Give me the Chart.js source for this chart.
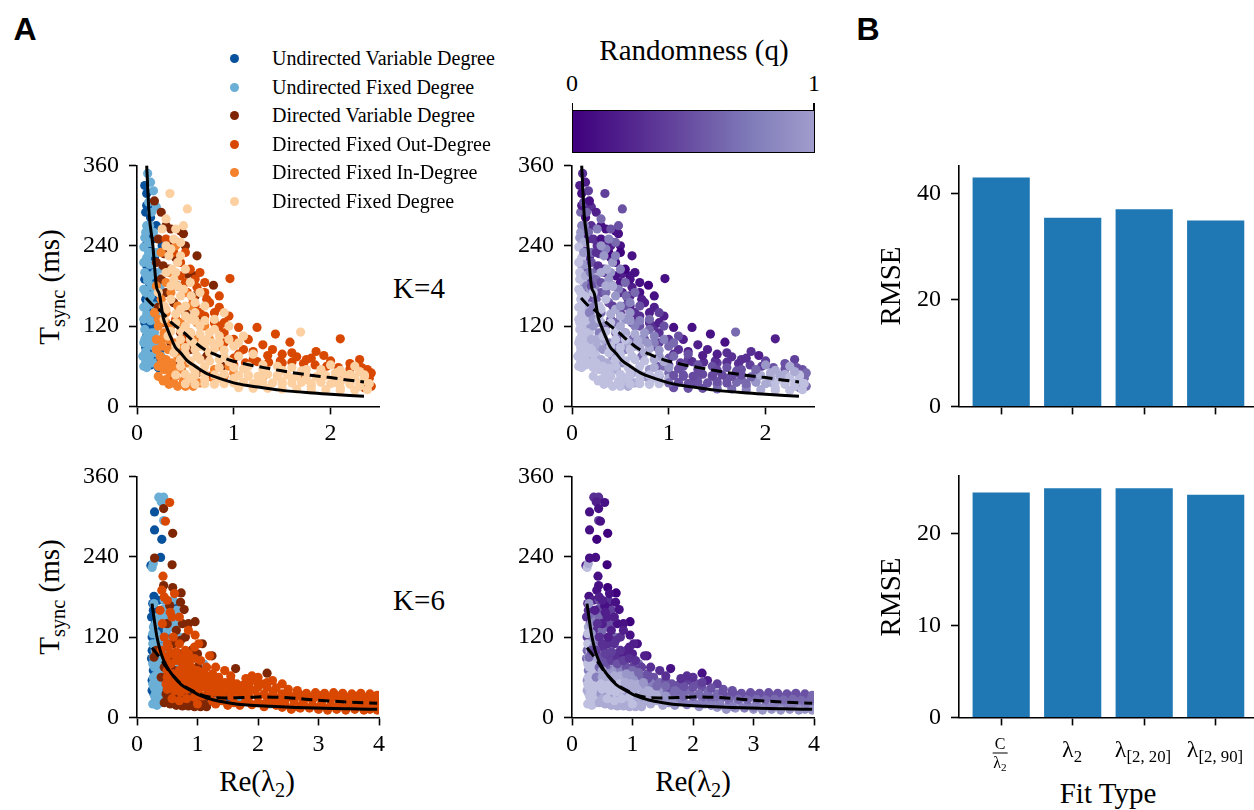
<!DOCTYPE html>
<html>
<head>
<meta charset="utf-8">
<script src="https://cdn.jsdelivr.net/npm/chart.js@4.4.1/dist/chart.umd.min.js"></script>
<style>
body { margin: 0; background: #fff; }
#fig { position: relative; width: 1254px; height: 810px; overflow: hidden; font-family: 'Liberation Serif', 'DejaVu Serif', serif; color: #000; }
canvas { position: absolute; }
.t { position: absolute; white-space: nowrap; line-height: 1; }
.c { transform: translate(-50%, -50%); }
.r { transform: translate(-50%, -50%) rotate(-90deg); }
.sub { font-size: 0.7em; position: relative; top: 0.3em; line-height: 0; }
.letter { font-family: 'Liberation Sans', Arial, sans-serif; font-weight: bold; font-size: 32px; }
.lab { font-size: 29px; }
.leg { position: absolute; left: 230px; font-size: 20px; line-height: 1; transform: translateY(-50%); white-space: nowrap; }
.leg i { position: absolute; left: 0; top: 50%; width: 9px; height: 9px; margin-top: -4.5px; border-radius: 50%; }
.leg span { margin-left: 42px; }
#cbar { position: absolute; left: 572px; top: 110px; width: 241px; height: 41px; border: 1.5px solid #000;
  background: linear-gradient(to right, #3f007d, #54278f 25%, #6a51a3 50%, #807dba 75%, #a09ccb); }
.ctick { position: absolute; top: 103px; width: 1.5px; height: 8px; background: #000; }
.frac { display: inline-flex; flex-direction: column; align-items: center; font-size: 16px; }
.frac .num { border-bottom: 1.2px solid #000; padding: 0 2px 1px; }
.frac .den { padding-top: 1px; }
</style>
</head>
<body>
<div id="fig">
  <canvas id="k4cat"></canvas>
  <canvas id="k4q"></canvas>
  <canvas id="k6cat"></canvas>
  <canvas id="k6q"></canvas>
  <canvas id="rmse4"></canvas>
  <canvas id="rmse6"></canvas>

  <div class="t c letter" style="left:25px;top:29px;">A</div>
  <div class="t c letter" style="left:868px;top:29px;">B</div>

  <div id="legend"></div>

  <div class="t c lab" style="left:694px;top:50px;">Randomness (q)</div>
  <div class="t c" style="left:572px;top:83px;font-size:24px;">0</div>
  <div class="t c" style="left:814px;top:83px;font-size:24px;">1</div>
  <div id="cbar"></div>
  <div class="ctick" style="left:571.5px;"></div>
  <div class="ctick" style="left:813px;"></div>

  <div class="t c lab" style="left:419px;top:288px;">K=4</div>
  <div class="t c lab" style="left:419px;top:600px;">K=6</div>

  <div class="t r lab" style="left:49px;top:287px;">T<span class="sub">sync</span> (ms)</div>
  <div class="t r lab" style="left:49px;top:597px;">T<span class="sub">sync</span> (ms)</div>
  <div class="t c lab" style="left:257px;top:781px;">Re(λ<span class="sub">2</span>)</div>
  <div class="t c lab" style="left:693px;top:781px;">Re(λ<span class="sub">2</span>)</div>

  <div class="t r lab" style="left:890px;top:286px;">RMSE</div>
  <div class="t r lab" style="left:890px;top:597px;">RMSE</div>
  <div class="t c lab" style="left:1108px;top:793px;">Fit Type</div>
  <div id="barlabels"></div>
</div>

<script>
// network families
const CATEGORIES = ['Undirected Variable Degree', 'Undirected Fixed Degree', 'Directed Variable Degree',
  'Directed Fixed Out-Degree', 'Directed Fixed In-Degree', 'Directed Fixed Degree'];

// K=4 points: [Re(lambda2), Tsync ms, q]
const K4_UND_VAR = [[0.08,330,.2],[0.10,318,.1],[0.12,300,.3],[0.09,290,.6],[0.14,282,.1],[0.11,262,.5],
  [0.16,250,.2],[0.09,240,.8],[0.13,232,.4],[0.18,222,.3],[0.10,210,.9],[0.15,200,.6],[0.08,190,1],
  [0.12,178,.7],[0.17,170,.5],[0.09,160,1],[0.14,150,.8],[0.11,140,1],[0.19,135,.6],[0.08,125,1],
  [0.13,118,.9],[0.10,105,1],[0.16,98,.9],[0.09,88,1],[0.12,80,1],[0.18,72,.9],[0.14,62,1],
  [0.22,58,1],[0.25,150,.4],[0.28,105,.7],[0.10,120,1],[0.13,140,.9],[0.16,130,.8],[0.20,160,.5],
  [0.17,190,.4],[0.13,260,.3],[0.20,270,.3],[0.10,300,.2],[0.20,120,.8],[0.23,190,.4],[0.26,240,.3],
  [0.19,100,.9],[0.24,85,1]];
const K4_UND_FIX = [[0.11,348,.3],[0.14,335,.2],[0.17,322,.4],[0.12,305,.5],[0.20,298,.3],[0.15,290,.6],
  [0.10,270,.7],[0.08,252,.8],[0.12,245,.9],[0.07,238,1],[0.16,230,.6],[0.10,222,1],[0.13,212,.8],
  [0.08,200,1],[0.11,188,1],[0.15,180,.7],[0.09,170,1],[0.12,158,1],[0.07,148,1],[0.10,138,1],
  [0.14,128,1],[0.08,115,1],[0.11,108,1],[0.07,95,1],[0.13,92,1],[0.09,82,1],[0.06,75,1],
  [0.12,70,1],[0.16,65,1],[0.10,58,1],[0.20,80,1],[0.22,60,1],[0.07,60,1],[0.09,68,1],[0.13,75,1],
  [0.08,100,1],[0.12,100,1],[0.15,110,1],[0.07,130,1],[0.10,150,1],[0.14,165,1],[0.07,175,1],
  [0.10,195,1],[0.14,195,.9],[0.07,215,1],[0.12,230,.8],[0.09,260,.8],[0.13,270,.7],[0.17,260,.6],
  [0.19,200,.7],[0.18,110,1],[0.20,140,.9],[0.18,150,.9],[0.22,125,1],[0.24,95,1],[0.20,65,1],
  [0.25,75,1],[0.17,90,1],[0.21,230,.6],[0.24,180,.7],[0.19,175,.8],[0.26,205,.6]];
const K4_DIR_VAR = [[0.18,307,.1],[0.25,290,.2],[0.30,270,.1],[0.45,262,0],[0.48,258,.1],[0.22,250,.3],
  [0.35,240,.2],[0.28,228,.4],[0.40,222,.2],[0.20,215,.5],[0.33,205,.3],[0.52,198,.2],[0.25,190,.6],
  [0.42,180,.3],[0.79,181,0],[0.30,170,.5],[0.60,165,.2],[0.38,155,.5],[0.22,148,.7],[0.50,140,.4],
  [0.68,130,.3],[0.28,125,.8],[0.45,110,.6],[0.35,95,.9],[0.55,85,.7],[0.25,70,1],[0.42,60,1],
  [0.53,39,.9],[0.35,45,1],[0.62,50,.8],[0.72,75,.6],[0.88,60,.5],[0.60,195,.1],[0.35,265,.1],
  [0.27,210,.3],[0.50,240,.1],[0.62,225,.1],[0.60,140,.3]];
const K4_DIR_OUT = [[0.30,250,.1],[0.38,230,0],[0.45,215,.1],[0.35,200,.2],[0.55,205,0],[0.50,185,.1],
  [0.62,178,.2],[0.96,191,.1],[0.70,170,.1],[0.58,160,.3],[0.75,155,.2],[0.85,148,.2],[0.65,140,.3],
  [0.95,135,.2],[0.80,125,.3],[1.05,118,.1],[1.24,118,.1],[1.43,108,.1],[1.58,96,.1],[2.10,101,.2],
  [1.93,76,.2],[1.15,100,.2],[1.30,92,.2],[1.40,85,.2],[1.10,85,.3],[1.60,80,.3],[1.75,70,.3],
  [1.85,82,.3],[2.00,68,.4],[2.20,64,.5],[2.30,70,.4],[2.38,55,.5],[2.40,42,.6],[2.42,30,.6],
  [2.35,28,.7],[1.20,70,.4],[1.50,65,.4],[1.00,72,.5],[0.90,95,.4],[2.15,45,.6],[1.70,50,.5],
  [0.45,60,.8],[0.35,40,1],[0.60,38,.9],[0.75,45,.8],[1.30,45,.5],[0.50,100,.6],[0.40,130,.5],
  [1.00,62,.4],[1.12,65,.4],[1.24,67,.3],[1.36,66,.3],[1.48,68,.3],[1.60,66,.3],[1.72,64,.3],
  [1.84,62,.4],[1.96,60,.4],[2.08,58,.5],[2.20,56,.5],[2.32,58,.5],[2.42,50,.6],[1.05,78,.3],
  [1.20,82,.2],[1.35,76,.2],[1.50,78,.2],[1.65,74,.3],[1.80,72,.3],[0.90,110,.3],[1.00,100,.3],
  [0.85,120,.3],[0.70,135,.3],[0.60,190,.1],[0.45,195,.1],[0.50,230,0],[0.42,245,.1],
  [0.60,150,.2],[0.72,160,.2],[0.85,165,.1],[0.90,125,.2],[0.80,140,.2],[0.70,185,.1],[0.65,200,.1],
  [0.52,170,.2]];
const K4_DIR_IN = [[0.20,180,.5],[0.25,160,.6],[0.30,140,.6],[0.22,120,.8],[0.28,110,.7],[0.35,120,.6],
  [0.20,100,.9],[0.26,90,.9],[0.32,85,.8],[0.38,95,.7],[0.24,75,1],[0.30,70,.9],[0.36,65,.9],
  [0.42,75,.8],[0.22,60,1],[0.28,55,1],[0.34,50,1],[0.40,45,1],[0.46,55,.9],[0.30,40,1],
  [0.38,35,1],[0.48,38,1],[0.55,42,.9],[0.60,55,.8],[0.52,65,.8],[0.45,90,.7],[0.65,35,.9],
  [0.70,48,.8],[0.80,40,.8],[0.55,110,.5],[0.62,125,.4],[0.75,100,.5],[0.85,90,.4],[0.42,150,.4],
  [0.50,170,.3],[0.32,200,.3],[0.25,230,.3],[0.40,240,.2],[0.18,140,.7],[0.95,60,.6],
  [0.22,45,1],[0.27,38,1],[0.33,33,1],[0.42,30,1],[0.50,30,1],[0.58,30,.9],[0.25,65,1],[0.32,60,1],
  [0.38,57,1],[0.26,100,.9],[0.33,100,.9],[0.20,85,1],[0.22,130,.8],[0.30,125,.8],[0.27,150,.7],
  [0.35,170,.6],[0.30,185,.5],[0.45,125,.6],[0.55,150,.5],[0.62,100,.6],[0.70,120,.5],[0.80,55,.8],
  [0.90,45,.8],[1.00,50,.6]];
const K4_DIR_FIX = [[0.34,318,.4],[0.52,295,.5],[0.30,280,.6],[0.40,265,.5],[0.45,245,.6],[0.35,235,.7],
  [0.42,215,.8],[0.30,200,.9],[0.38,190,.8],[0.48,175,.7],[0.56,165,.6],[0.70,150,.5],[0.35,160,1],
  [0.45,145,.9],[0.28,130,1],[0.40,125,1],[0.55,130,.8],[0.65,120,.7],[0.80,115,.6],[0.90,140,.4],
  [1.69,111,.6],[0.32,105,1],[0.45,100,1],[0.58,95,.9],[0.72,100,.8],[0.85,95,.7],[1.00,90,.6],
  [0.38,80,1],[0.50,78,1],[0.62,75,1],[0.75,80,.9],[0.90,75,.8],[1.05,75,.6],[1.20,78,.5],
  [0.45,60,1],[0.58,58,1],[0.70,60,1],[0.85,58,.9],[1.00,58,.8],[1.15,60,.5],[1.30,62,.5],
  [1.45,60,.5],[1.60,58,.5],[1.75,55,.5],[1.90,52,.7],[2.05,50,.9],[2.20,48,.9],[2.35,45,1],
  [0.55,42,1],[0.70,40,1],[0.85,42,1],[1.00,42,.9],[1.15,45,.5],[1.30,48,.5],[1.45,45,.5],
  [1.60,42,.5],[1.75,40,.6],[1.90,38,.7],[2.05,36,.9],[2.20,35,1],[2.35,38,1],[1.25,35,.5],
  [1.50,33,.6],[1.80,30,.7],[2.10,28,1],[2.30,30,1],[0.95,120,.5],[1.10,105,.5],[2.25,60,.9],
  [2.00,62,.8],[0.65,90,.9],[0.28,150,1],[0.22,170,1],[0.60,50,1],
  [1.05,28,.5],[1.20,27,.5],[1.35,27,.5],[1.50,26,.6],[1.65,26,.6],[1.80,25,.7],[1.95,25,.9],
  [2.10,24,1],[2.25,24,1],[2.38,25,1],[1.00,35,.6],[1.10,36,.5],[1.20,34,.5],[1.30,37,.5],
  [1.40,35,.5],[1.50,37,.5],[1.60,35,.5],[1.70,36,.6],[1.80,34,.6],[1.90,36,.8],[2.00,34,.9],
  [2.10,36,1],[2.20,33,1],[2.30,35,1],[2.40,34,1],[1.05,46,.5],[1.15,47,.5],[1.25,45,.45],
  [1.35,48,.45],[1.45,46,.45],[1.55,47,.45],[1.65,45,.5],[1.75,47,.5],[1.85,44,.6],[1.95,46,.9],
  [2.05,44,.9],[2.15,46,.9],[2.25,44,1],[2.35,47,1],[1.10,56,.5],[1.30,55,.45],[1.50,54,.45],
  [1.70,53,.5],[1.90,55,.6],[2.10,54,.9],[2.30,52,.9],[0.50,34,1],[0.60,33,1],[0.70,34,1],
  [0.80,33,1],[0.90,34,1],[0.40,47,1],[0.50,48,1],[0.60,46,1],[0.70,48,1],[0.80,47,1],[0.90,48,1],
  [0.45,70,1],[0.55,68,1],[0.65,70,1],[0.75,68,1],[0.85,70,.9],[0.95,67,.9],[0.40,90,1],[0.50,88,1],
  [0.60,85,1],[0.70,88,.9],[0.80,86,.9],[0.90,84,.8],[0.35,112,1],[0.45,113,1],[0.55,110,.9],
  [0.65,108,.9],[0.75,110,.8],[0.85,105,.7],[0.30,145,1],[0.40,138,.9],[0.50,135,.9],[0.60,140,.8],
  [0.35,180,.9],[0.45,165,.8],[0.40,200,.8],[0.33,225,.8],[0.38,250,.7],
  [0.50,120,.9],[0.60,128,.8],[0.70,128,.7],[0.80,130,.6],[0.50,150,.8],[0.60,155,.7],[0.65,170,.6],
  [0.55,185,.6],[0.50,205,.7],[0.45,225,.7],[0.55,100,1],[0.68,98,.9],[0.78,95,.8],[0.95,100,.7],
  [1.05,95,.6],[0.42,180,.9],[0.36,205,.9],[0.30,240,.8],[0.26,265,.7],[0.48,270,.5]];

// K=6 points
const K6_UND_VAR = [[0.29,307,.1],[0.29,280,.1],[0.41,266,0],[0.39,239,.1],[0.23,227,.2],[0.28,181,.1],
  [0.26,170,.2],[0.32,160,.2],[0.24,150,.3],[0.30,140,.3],[0.36,130,.3],[0.25,120,.4],[0.33,112,.4],
  [0.28,100,.5],[0.38,95,.5],[0.24,88,.6],[0.30,80,.6],[0.42,85,.5],[0.27,70,.7],[0.35,65,.7],
  [0.25,55,.8],[0.32,45,.8],[0.40,40,.8],[0.28,35,.9],[0.45,30,.9],[0.50,55,.6],[0.55,160,.2],
  [0.48,120,.3],[0.36,22,1],[0.52,25,.9],[0.60,170,.1],[0.75,60,.5],[0.90,30,.7],[1.20,40,.6],
  [1.50,30,.7],[0.25,100,.6],[0.33,92,.5],[0.27,160,.3],[0.35,175,.2],[0.30,60,.8],[0.38,28,1],
  [0.50,30,.9],[0.60,40,.8],[0.25,40,.9],[0.42,110,.4]];
const K6_UND_FIX = [[0.36,329,.3],[0.44,329,.3],[0.40,322,.2],[0.44,294,.4],[0.25,224,1],[0.27,230,.9],
  [0.44,162,.5],[0.28,170,.8],[0.34,150,.6],[0.27,135,.9],[0.32,125,.8],[0.26,110,1],[0.30,100,1],
  [0.36,105,.8],[0.27,90,1],[0.33,85,1],[0.29,75,1],[0.36,70,1],[0.27,60,1],[0.33,55,1],
  [0.28,45,1],[0.35,40,1],[0.29,32,1],[0.38,30,1],[0.30,25,1],[0.42,50,1],[0.45,65,.9],
  [0.40,85,.9],[0.55,135,.5],[0.60,175,.3],[0.65,160,.4],[0.58,95,.7],[0.70,75,.8],[0.85,60,.8],
  [1.00,45,.9],[1.10,80,.6],[1.70,30,.8],[2.20,20,.8],[0.26,20,1],[0.33,18,1],[0.40,22,1],
  [0.31,38,1],[0.26,50,1],[0.38,48,1],[0.30,62,1],[0.42,60,1],[0.26,80,1],[0.34,78,1],[0.30,92,1],
  [0.38,95,.9],[0.26,125,1],[0.36,118,.8],[0.31,140,.8],[0.40,145,.7],[0.45,175,.5],[0.50,100,.7],
  [0.55,80,.8],[0.60,60,.9],[0.65,45,1],[0.75,40,1],[0.90,40,1],[1.20,30,1],[1.40,45,.9],
  [0.45,150,.6],[0.50,130,.6],[0.55,115,.7],[0.62,140,.5],[0.70,120,.6],[0.48,110,.7]];
const K6_DIR_VAR = [[0.44,312,.1],[0.59,275,0],[0.29,238,.1],[0.58,228,0],[0.44,197,.1],[0.59,194,0],
  [0.73,186,0],[0.72,172,.1],[0.54,167,.1],[0.78,161,.1],[0.96,143,0],[1.08,110,.1],[1.24,92,.1],
  [1.63,73,.1],[2.15,66,.1],[0.50,140,.2],[0.65,130,.2],[0.80,120,.3],[0.60,110,.3],[0.90,100,.3],
  [0.70,95,.4],[0.50,85,.5],[0.85,80,.4],[1.00,75,.4],[0.62,70,.6],[0.75,60,.6],[0.55,50,.7],
  [0.90,50,.6],[1.10,55,.5],[0.48,35,.8],[0.60,30,.9],[0.72,25,.9],[0.85,22,.9],[0.98,25,.8],
  [1.10,20,.9],[1.22,28,.8],[0.66,40,.8],[0.80,35,.8],[1.35,35,.6],[1.50,40,.5],[0.28,90,.6],
  [0.32,100,.5],[0.45,22,.9],[0.55,20,.9],[0.65,18,.9],[0.75,17,.9],[0.85,17,.9],[0.95,16,.9],
  [1.05,16,.9],[1.15,16,.9],[0.50,28,.9],[0.62,24,.9],[0.78,28,.9],[0.90,28,.9],[1.02,30,.8],
  [1.15,32,.8],[0.55,40,.8],[0.70,35,.8],[0.95,38,.8],[0.40,60,.7],[0.45,75,.6],[0.62,90,.4],
  [0.72,115,.3],[0.85,140,.1],[1.00,95,.2],[0.75,140,.1]];
const K6_DIR_OUT = [[0.54,321,.1],[0.47,293,.1],[0.43,211,.1],[0.41,190,.1],[0.55,157,.2],[0.58,150,.2],
  [0.96,123,.1],[1.02,110,.2],[1.20,92,.2],[2.24,55,.2],[0.45,180,.2],[0.45,120,.3],[0.52,105,.3],
  [0.60,95,.3],[0.48,90,.5],[0.56,80,.5],[0.65,85,.4],[0.75,90,.3],[0.85,95,.2],[0.50,70,.9],
  [0.60,65,.8],[0.70,70,.8],[0.80,72,.7],[0.90,75,.5],[1.00,70,.6],[0.55,55,.9],[0.65,52,.9],
  [0.75,55,.9],[0.85,58,.9],[0.95,60,.8],[1.05,58,.8],[1.15,62,.6],[1.25,65,.5],[1.35,60,.5],
  [0.50,42,1],[0.62,40,1],[0.72,38,1],[0.82,42,1],[0.92,45,.9],[1.02,42,.9],[1.12,45,.9],
  [1.22,48,.8],[1.32,50,.7],[1.45,52,.6],[1.55,55,.5],[1.65,50,.5],[1.75,48,.5],[1.85,52,.4],
  [1.95,55,.4],[2.05,50,.5],[2.15,45,.5],[0.58,28,1],[0.70,25,1],[0.82,28,1],[0.95,30,1],
  [1.08,32,.9],[1.20,35,.9],[1.32,38,.9],[1.45,40,.8],[1.58,38,.6],[1.70,35,.6],[1.82,38,.6],
  [1.95,40,.6],[2.10,35,.6],[2.25,38,.6],[2.40,35,.6],[1.40,25,.9],[1.60,22,.8],[1.80,25,.7],
  [2.00,22,.7],[2.20,25,.7],[2.40,22,.7],[2.55,30,.6],[2.70,33,.6],[2.85,30,.6],[3.00,33,.6],
  [3.15,30,.6],[3.30,32,.6],[3.45,30,.6],[3.60,32,.6],[3.75,30,.6],[3.90,28,.6],[2.60,20,.7],
  [2.75,22,.7],[2.90,18,.7],[3.05,20,.7],[3.20,17,.7],[3.35,20,.7],[3.50,18,.7],[3.65,20,.7],
  [3.80,17,.7],[3.95,15,.8],[3.95,22,.7],[2.50,42,.5],[2.65,40,.5],[1.90,62,.3],[2.40,50,.4],
  [1.60,45,.5],[1.30,20,.9],[1.00,20,1],[3.85,12,.8],[3.60,12,.8],[3.30,12,.8],
  [3.00,12,.8],[2.70,14,.8],[2.40,15,.8],[2.10,16,.8],
  [2.50,36,.5],[2.65,37,.5],[2.80,36,.5],[2.95,37,.5],[3.10,36,.5],[3.25,37,.5],[3.40,36,.5],
  [3.55,35,.5],[3.70,36,.5],[3.85,35,.5],[3.97,33,.6],[2.45,27,.6],[2.60,26,.6],[2.75,27,.6],
  [2.90,26,.6],[3.05,27,.6],[3.20,26,.6],[3.35,27,.6],[3.50,26,.6],[3.65,27,.6],[3.80,25,.6],
  [3.95,27,.6],[2.45,19,.7],[2.65,16,.7],[2.85,14,.7],[3.00,15,.7],[3.15,14,.7],[3.30,16,.7],
  [3.45,14,.7],[3.60,16,.7],[3.75,14,.7],[3.90,18,.7],[2.55,12,.8],[3.15,11,.8],[3.45,11,.8],
  [3.75,11,.8],[3.97,11,.8],[1.25,58,.5],[1.40,47,.6],[1.55,47,.6],[1.70,45,.5],[1.85,46,.5],
  [2.00,45,.5],[2.15,52,.4],[2.30,44,.5],[1.25,40,.9],[1.40,33,.9],[1.55,32,.8],[1.70,40,.6],
  [1.85,31,.6],[2.00,31,.6],[2.15,30,.6],[2.30,29,.6],[1.25,24,.9],[1.50,18,.9],[1.70,18,.8],
  [1.90,19,.7],[2.10,20,.7],[2.30,18,.7],[0.50,110,.3],[0.60,120,.2],[0.70,110,.3],[0.80,100,.3],
  [0.55,95,.4],[0.65,98,.4],[0.75,80,.5],[0.85,85,.4],[0.95,88,.3],[1.05,85,.3],[1.15,75,.4],
  [0.50,60,.9],[0.60,58,.9],[0.70,62,.9],[0.80,62,.9],[0.90,65,.8],[1.00,62,.8],[1.10,67,.6],
  [0.48,50,1],[0.58,48,1],[0.68,46,1],[0.78,50,1],[0.88,52,.9],[0.98,50,.9],[1.08,49,.9],
  [1.18,52,.8],[0.40,100,.4],[0.42,140,.3],[0.38,160,.2],[0.50,175,.2],[0.62,185,.1],[0.70,150,.2],
  [0.85,130,.2],[0.95,105,.2],[1.30,75,.3],[1.45,70,.3],[1.55,62,.3],[1.80,58,.3],[2.00,60,.3]];

// fitted curves
const K4_FIT_C_X = [0.10,0.125,0.162,0.2,0.231,0.27,0.307,0.35,0.394,0.45,0.515,0.6,0.722,0.85,1.033,1.25,1.482,1.75,2.0,2.2,2.345];
const K4_FIT_C_Y = [360,288,243,180,168,133,118,103,88.7,80,68.8,60,48.9,42,34,29,24.3,20.6,18.3,16.4,15.2];
const K4_FIT_L_X = [0.093,0.15,0.256,0.35,0.48,0.58,0.687,0.8,0.963,1.13,1.31,1.48,1.65,1.82,2.0,2.17,2.345];
const K4_FIT_L_Y = [162,153,141,126,111,98,86,78,69,63,57.9,53.5,49.5,46,43,39.5,36.5];
const K6_FIT_C_X = [0.248,0.29,0.33,0.38,0.44,0.52,0.61,0.73,0.88,1.05,1.27,1.5,1.82,2.2,2.65,3.1,3.5,3.97];
const K6_FIT_C_Y = [170,143,120,101,85.4,72,60.5,49,40.7,32.5,25.9,22,18.4,16.5,14.9,13.6,12.8,12];
const K6_FIT_L_X = [0.248,0.33,0.41,0.5,0.61,0.73,0.88,1.05,1.27,1.45,1.6,1.85,2.1,2.54,2.98,3.48,3.97];
const K6_FIT_L_Y = [104,95,85,73,61,50,41.5,34,29.5,29,29.2,30,30.7,29,25.8,23,21];

// panel B
const FIT_TYPES = ['C/λ2', 'λ2', 'λ[2,20]', 'λ[2,90]'];
const RMSE_K4 = [43.0, 35.4, 37.0, 34.9];
const RMSE_K6 = [24.5, 24.95, 24.95, 24.25];

const T_TICKS = [0, 120, 240, 360];
const K4_X_TICKS = [0, 1, 2];
const K6_X_TICKS = [0, 1, 2, 3, 4];
const RMSE_K4_TICKS = [0, 20, 40];
const RMSE_K6_TICKS = [0, 10, 20];

const SERIF = "'Liberation Serif','DejaVu Serif',serif";
const CAT_COLORS = ['#08519c', '#6baed6', '#7f2704', '#d94801', '#f4812c', '#fdd0a2'];
const PURPLE_STOPS = [[0, [63, 0, 125]], [0.25, [84, 39, 143]], [0.5, [106, 81, 163]], [0.75, [143, 140, 194]], [1, [191, 191, 224]]];

function purple(q) {
  for (let i = 1; i < PURPLE_STOPS.length; i++) {
    const [q1, c1] = PURPLE_STOPS[i];
    const [q0, c0] = PURPLE_STOPS[i - 1];
    if (q <= q1) {
      const f = (q - q0) / (q1 - q0);
      return 'rgb(' + c0.map((v, k) => Math.round(v + f * (c1[k] - v))).join(',') + ')';
    }
  }
  return 'rgb(191,191,224)';
}

// legend
const legend = document.getElementById('legend');
const legendY = [58, 87, 115, 144, 172, 201];
CATEGORIES.forEach((name, i) => {
  const row = document.createElement('div');
  row.className = 'leg';
  row.style.top = legendY[i] + 'px';
  row.innerHTML = '<i style="background:' + CAT_COLORS[i] + '"></i><span>' + name + '</span>';
  legend.appendChild(row);
});

// bar tick labels
document.getElementById('barlabels').innerHTML =
  '<div class="t c" style="left:1000px;top:753px;"><span class="frac"><span class="num">C</span><span class="den">λ<span class="sub">2</span></span></span></div>' +
  '<div class="t c" style="left:1072px;top:749px;font-size:24px;">λ<span class="sub">2</span></div>' +
  '<div class="t c" style="left:1143px;top:749px;font-size:24px;">λ<span class="sub">[2, 20]</span></div>' +
  '<div class="t c" style="left:1215px;top:749px;font-size:24px;">λ<span class="sub">[2, 90]</span></div>';

const Y_W = 60, X_H = 44;

function axis(min, max, ticks, isX, labels) {
  return {
    type: 'linear', min: min, max: max, offset: false,
    afterBuildTicks: s => { s.ticks = ticks.map(v => ({ value: v })); },
    afterFit: s => { if (isX) s.height = X_H; else s.width = Y_W; },
    grid: { display: true, drawOnChartArea: false, drawTicks: true, offset: false, tickLength: 8, tickWidth: 1.6, tickColor: '#000' },
    border: { display: true, color: '#000', width: 1.6 },
    ticks: {
      color: '#000', font: { family: SERIF, size: 24 }, padding: isX ? 5 : 10,
      maxRotation: 0, autoSkip: false,
      callback: labels === false ? () => '' : (v => String(v))
    }
  };
}

// resize the canvas so the plot area lands exactly on the wanted box
function fitArea(chart, cv, l, t, w, h) {
  for (let k = 0; k < 3; k++) {
    const a = chart.chartArea;
    const dw = w - (a.right - a.left), dh = h - (a.bottom - a.top);
    if (Math.abs(dw) < 0.5 && Math.abs(dh) < 0.5) break;
    chart.resize(chart.width + dw, chart.height + dh);
  }
  const a = chart.chartArea;
  cv.style.left = (l - a.left) + 'px';
  cv.style.top = (t - a.top) + 'px';
}

function pts(rows) { return rows.map(r => ({ x: r[0], y: r[1] })); }
function curve(xs, ys) { return xs.map((x, i) => ({ x: x, y: ys[i] })); }

function scatterPanel(id, l, t, w, h, xMax, xTicks, groups, fitC, fitL, byQ) {
  const cv = document.getElementById(id);
  cv.width = Y_W + w + 14; cv.height = 20 + h + X_H;
  const sets = [
    { type: 'line', data: fitC, borderColor: '#000', borderWidth: 3, pointRadius: 0, showLine: true, fill: false,
      cubicInterpolationMode: 'monotone', order: 0 },
    { type: 'line', data: fitL, borderColor: '#000', borderWidth: 3, borderDash: [11, 6], pointRadius: 0, showLine: true,
      fill: false, cubicInterpolationMode: 'monotone', order: 0 }
  ];
  groups.forEach((rows, i) => {
    sets.push({
      data: pts(rows),
      pointRadius: 4.6, pointBorderWidth: 0, pointHoverRadius: 4.6,
      pointBackgroundColor: byQ ? rows.map(r => purple(r[2])) : CAT_COLORS[i],
      order: groups.length - i
    });
  });
  const chart = new Chart(cv, {
    type: 'scatter',
    data: { datasets: sets },
    options: {
      responsive: false, maintainAspectRatio: false, animation: false,
      layout: { padding: { top: 16, right: 14, left: 0, bottom: 0 } },
      plugins: { legend: { display: false }, tooltip: { enabled: false } },
      scales: { x: axis(0, xMax, xTicks, true), y: axis(0, 360, T_TICKS, false) }
    }
  });
  fitArea(chart, cv, l, t, w, h);
}

function barPanel(id, l, t, w, h, values, yMax, yTicks) {
  const cv = document.getElementById(id);
  cv.width = Y_W + w; cv.height = 20 + h + X_H;
  const xMin = -0.59;
  const xMax = xMin + w / 71.5;
  const chart = new Chart(cv, {
    type: 'bar',
    data: {
      datasets: [{
        data: values.map((v, i) => ({ x: i, y: v })),
        backgroundColor: '#1f77b4', borderWidth: 0,
        barPercentage: 0.8, categoryPercentage: 1.0
      }]
    },
    options: {
      responsive: false, maintainAspectRatio: false, animation: false,
      layout: { padding: { top: 16, right: 0, left: 0, bottom: 0 } },
      plugins: { legend: { display: false }, tooltip: { enabled: false } },
      scales: { x: axis(xMin, xMax, [0, 1, 2, 3], true, false), y: axis(0, yMax, yTicks, false) }
    }
  });
  fitArea(chart, cv, l, t, w, h);
}

const K4_GROUPS = [K4_UND_VAR, K4_UND_FIX, K4_DIR_VAR, K4_DIR_OUT, K4_DIR_IN, K4_DIR_FIX];
const K6_GROUPS = [K6_UND_VAR, K6_UND_FIX, K6_DIR_VAR, K6_DIR_OUT];

scatterPanel('k4cat', 137, 165, 242, 241, 2.5, K4_X_TICKS, K4_GROUPS, curve(K4_FIT_C_X, K4_FIT_C_Y), curve(K4_FIT_L_X, K4_FIT_L_Y), false);
scatterPanel('k4q', 572, 165, 242, 241, 2.5, K4_X_TICKS, K4_GROUPS, curve(K4_FIT_C_X, K4_FIT_C_Y), curve(K4_FIT_L_X, K4_FIT_L_Y), true);
scatterPanel('k6cat', 137, 476, 242, 241, 4, K6_X_TICKS, K6_GROUPS, curve(K6_FIT_C_X, K6_FIT_C_Y), curve(K6_FIT_L_X, K6_FIT_L_Y), false);
scatterPanel('k6q', 572, 476, 242, 241, 4, K6_X_TICKS, K6_GROUPS, curve(K6_FIT_C_X, K6_FIT_C_Y), curve(K6_FIT_L_X, K6_FIT_L_Y), true);

barPanel('rmse4', 959, 165, 295, 241, RMSE_K4, 45.25, RMSE_K4_TICKS);
barPanel('rmse6', 959, 475, 295, 242, RMSE_K6, 26.35, RMSE_K6_TICKS);
</script>
</body>
</html>
